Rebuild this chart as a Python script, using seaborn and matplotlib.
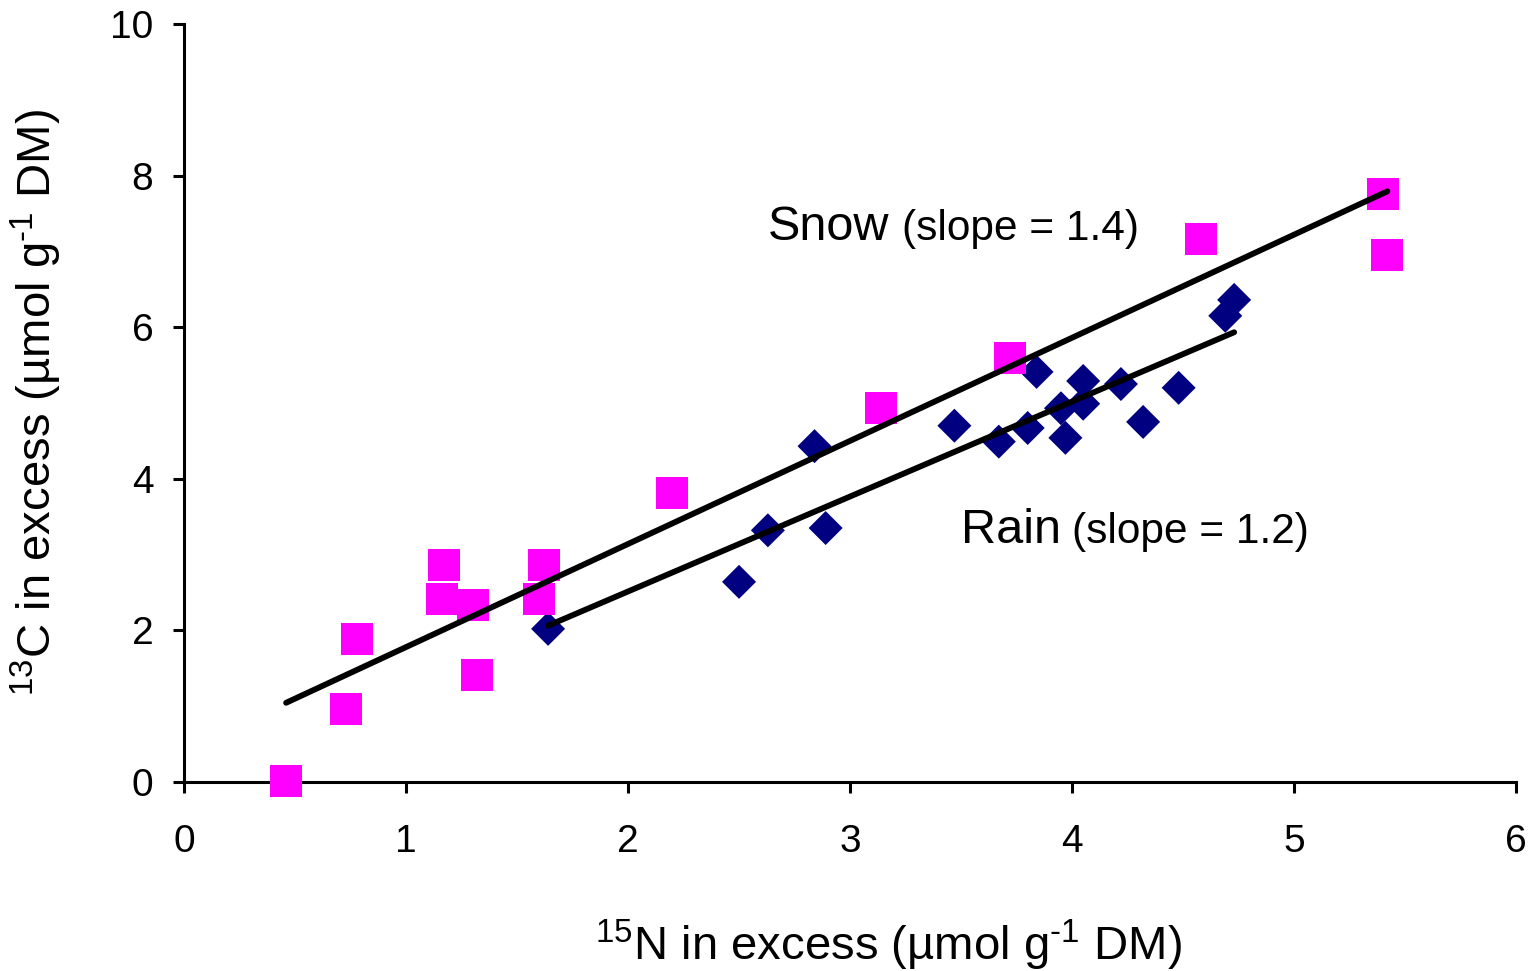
import matplotlib
matplotlib.use('Agg')
import matplotlib.pyplot as plt
import seaborn as sns
import pandas as pd

# Snow (pink squares)
snow_n15 = [0.46, 0.73, 0.78, 1.17, 1.16, 1.30, 1.32, 1.62, 1.60, 2.20,
            3.14, 3.72, 4.58, 5.40, 5.42]
snow_c13 = [0.01, 0.96, 1.89, 2.86, 2.41, 2.34, 1.41, 2.86, 2.41, 3.81,
            4.93, 5.59, 7.16, 7.76, 6.95]

# Rain (navy diamonds)
rain_n15 = [1.64, 2.50, 2.63, 2.84, 2.89, 3.47, 3.67, 3.80, 3.84, 3.95,
            3.97, 4.05, 4.05, 4.22, 4.32, 4.48, 4.69, 4.73]
rain_c13 = [2.02, 2.64, 3.32, 4.43, 3.35, 4.70, 4.49, 4.67, 5.41, 4.93,
            4.54, 4.99, 5.29, 5.25, 4.75, 5.20, 6.15, 6.36]

x_ticks = [0, 1, 2, 3, 4, 5, 6]
y_ticks = [0, 2, 4, 6, 8, 10]

snow = pd.DataFrame({'n15': snow_n15, 'c13': snow_c13})
rain = pd.DataFrame({'n15': rain_n15, 'c13': rain_c13})

sns.set_style('ticks')
plt.rcParams['font.family'] = ['Liberation Sans', 'DejaVu Sans']
plt.rcParams['mathtext.fontset'] = 'custom'
plt.rcParams['mathtext.rm'] = 'Liberation Sans'
plt.rcParams['mathtext.it'] = 'Liberation Sans:italic'
plt.rcParams['mathtext.bf'] = 'Liberation Sans:bold'
for key in ['text.color', 'axes.labelcolor', 'xtick.color', 'ytick.color',
            'axes.edgecolor']:
    plt.rcParams[key] = 'black'

fig = plt.figure(figsize=(15.33, 9.71), dpi=100)
ax = fig.add_axes([0.120, 0.1947, 0.869, 0.7806])

# scatter points
sns.scatterplot(data=rain, x='n15', y='c13', marker='D', s=300,
                color='#000080', edgecolor='none', clip_on=False,
                zorder=3, ax=ax)
sns.scatterplot(data=snow, x='n15', y='c13', marker='s', s=530,
                color='#FF00FF', edgecolor='none', clip_on=False,
                zorder=3, ax=ax)

# fitted lines
line_kws = dict(color='black', linewidth=4.2, solid_capstyle='round', zorder=4)
sns.regplot(data=snow, x='n15', y='c13', scatter=False, ci=None,
            truncate=True, line_kws=line_kws, ax=ax)
sns.regplot(data=rain, x='n15', y='c13', scatter=False, ci=None,
            truncate=True, line_kws=line_kws, ax=ax)

# labels on lines
ax.text(2.63, 7.15, 'Snow', fontsize=35, ha='left', va='baseline')
ax.text(3.235, 7.15, '(slope = 1.4)', fontsize=30.5, ha='left', va='baseline')
ax.text(3.50, 3.15, 'Rain', fontsize=35, ha='left', va='baseline')
ax.text(4.00, 3.15, '(slope = 1.2)', fontsize=30.5, ha='left', va='baseline')

ax.set_xlim(0, 6)
ax.set_ylim(0, 10)
ax.set_xticks(x_ticks)
ax.set_yticks(y_ticks)
ax.set_xlabel(r'$^{15}$N in excess (µmol g$^{\text{-}1}$ DM)', fontsize=34)
ax.set_ylabel(r'$^{13}$C in excess (µmol g$^{\text{-}1}$ DM)', fontsize=34)
ax.xaxis.set_label_coords(0.5285, -0.180)
ax.yaxis.set_label_coords(-0.090, 0.5)

sns.despine(ax=ax)
for side in ['left', 'bottom']:
    ax.spines[side].set_linewidth(2.2)
ax.tick_params(axis='both', direction='out', length=8, width=2.2,
               labelsize=28)
ax.tick_params(axis='x', pad=22)
ax.tick_params(axis='y', pad=14)

fig.savefig('out.png', dpi=100, facecolor='white')
